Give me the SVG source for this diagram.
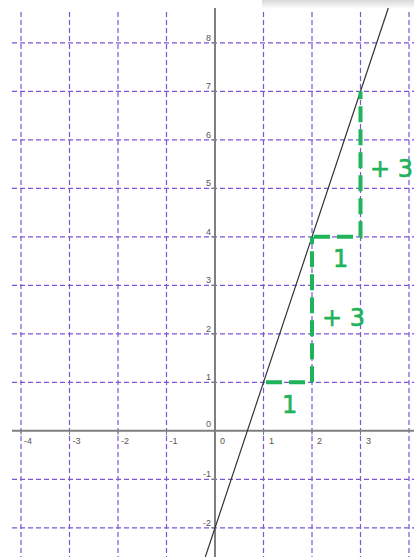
<svg xmlns="http://www.w3.org/2000/svg" width="414" height="557" viewBox="0 0 414 557">
<style>
.grid line{stroke:#7b55d8;stroke-width:1.2;stroke-dasharray:5,3;}
.axis{stroke:#7f7f7f;stroke-width:2;}
.tick{stroke:#7f7f7f;stroke-width:1;}
.tl{font-family:"Liberation Sans",Arial,sans-serif;font-size:9px;fill:#555;}
.tly{text-anchor:end;}
.step{stroke:#1fb35a;stroke-width:4;stroke-dasharray:16,7;fill:none;}
.lbl{font-family:"DejaVu Sans",sans-serif;font-size:24px;fill:#1fb35a;stroke:#1fb35a;stroke-width:0.6;}
</style>
<defs>
<linearGradient id="sh" x1="0" y1="0" x2="0" y2="1">
<stop offset="0" stop-color="#d8d8d8"/>
<stop offset="1" stop-color="#ffffff"/>
</linearGradient>
</defs>
<rect width="414" height="557" fill="#fff"/>
<rect x="262" y="0" width="152" height="9" fill="url(#sh)"/>
<g class="grid" id="grid">
<line x1="21" y1="12" x2="21" y2="557"/>
<line x1="69.5" y1="12" x2="69.5" y2="557"/>
<line x1="118" y1="12" x2="118" y2="557"/>
<line x1="166.5" y1="12" x2="166.5" y2="557"/>
<line x1="263.5" y1="12" x2="263.5" y2="557"/>
<line x1="312" y1="12" x2="312" y2="557"/>
<line x1="360.5" y1="12" x2="360.5" y2="557"/>
<line x1="409" y1="12" x2="409" y2="557"/>
<line x1="12" y1="42.8" x2="414" y2="42.8"/>
<line x1="12" y1="91.3" x2="414" y2="91.3"/>
<line x1="12" y1="139.8" x2="414" y2="139.8"/>
<line x1="12" y1="188.3" x2="414" y2="188.3"/>
<line x1="12" y1="236.8" x2="414" y2="236.8"/>
<line x1="12" y1="285.3" x2="414" y2="285.3"/>
<line x1="12" y1="333.8" x2="414" y2="333.8"/>
<line x1="12" y1="382.3" x2="414" y2="382.3"/>
<line x1="12" y1="479.3" x2="414" y2="479.3"/>
<line x1="12" y1="527.8" x2="414" y2="527.8"/>
</g>
<g id="axes">
<line class="axis" x1="12" y1="430.8" x2="414" y2="430.8"/>
<line class="axis" x1="215" y1="8" x2="215" y2="557"/>
<g class="ticks">
<line class="tick" x1="21" y1="430.8" x2="21" y2="435"/>
<line class="tick" x1="69.5" y1="430.8" x2="69.5" y2="435"/>
<line class="tick" x1="118" y1="430.8" x2="118" y2="435"/>
<line class="tick" x1="166.5" y1="430.8" x2="166.5" y2="435"/>
<line class="tick" x1="263.5" y1="430.8" x2="263.5" y2="435"/>
<line class="tick" x1="312" y1="430.8" x2="312" y2="435"/>
<line class="tick" x1="360.5" y1="430.8" x2="360.5" y2="435"/>
<line class="tick" x1="211" y1="42.8" x2="215" y2="42.8"/>
<line class="tick" x1="211" y1="91.3" x2="215" y2="91.3"/>
<line class="tick" x1="211" y1="139.8" x2="215" y2="139.8"/>
<line class="tick" x1="211" y1="188.3" x2="215" y2="188.3"/>
<line class="tick" x1="211" y1="236.8" x2="215" y2="236.8"/>
<line class="tick" x1="211" y1="285.3" x2="215" y2="285.3"/>
<line class="tick" x1="211" y1="333.8" x2="215" y2="333.8"/>
<line class="tick" x1="211" y1="382.3" x2="215" y2="382.3"/>
<line class="tick" x1="211" y1="479.3" x2="215" y2="479.3"/>
<line class="tick" x1="211" y1="527.8" x2="215" y2="527.8"/>
</g>
<g class="tl">
<text x="24" y="444">-4</text>
<text x="72.5" y="444">-3</text>
<text x="121" y="444">-2</text>
<text x="169.5" y="444">-1</text>
<text x="220" y="444">0</text>
<text x="269" y="444">1</text>
<text x="317" y="444">2</text>
<text x="366" y="444">3</text>
<text class="tly" x="211" y="40.5">8</text>
<text class="tly" x="211" y="89">7</text>
<text class="tly" x="211" y="137.5">6</text>
<text class="tly" x="211" y="186">5</text>
<text class="tly" x="211" y="234.5">4</text>
<text class="tly" x="211" y="283">3</text>
<text class="tly" x="211" y="331.5">2</text>
<text class="tly" x="211" y="380">1</text>
<text class="tly" x="211" y="427">0</text>
<text class="tly" x="211" y="477">-1</text>
<text class="tly" x="211" y="525.5">-2</text>
</g>
</g>
<g id="line">
<line x1="205.3" y1="557" x2="388.3" y2="8" stroke="#333" stroke-width="1.2"/>
</g>
<g id="steps">
<path class="step" d="M266,382.3 H312 V236.8"/>
<path class="step" d="M314,236.8 H360.5 V91.3"/>
</g>
<g id="labels">
<text class="lbl" x="282" y="413">1</text>
<text class="lbl" x="322" y="326">+ 3</text>
<text class="lbl" x="333" y="267">1</text>
<text class="lbl" x="370" y="177">+ 3</text>
</g>
</svg>
